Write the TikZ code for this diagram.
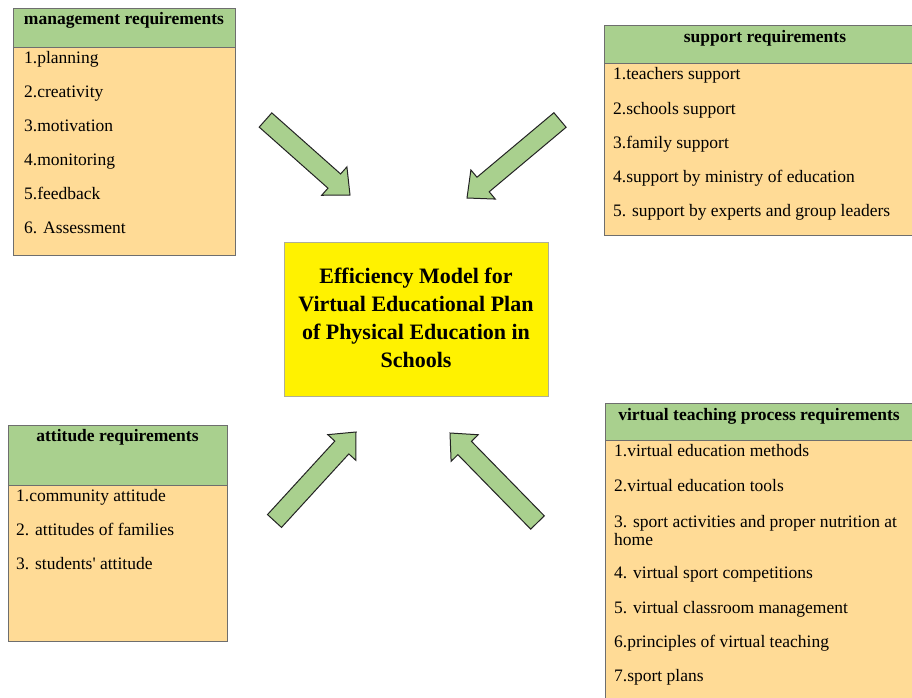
\documentclass[tikz,border=0pt]{standalone}
\usepackage{fontspec}
\setmainfont{Liberation Serif}
\usetikzlibrary{calc}
\definecolor{hdrgreen}{RGB}{169,208,142}
\definecolor{bodyorange}{RGB}{255,219,150}
\definecolor{boxline}{RGB}{110,110,110}
\definecolor{arrowline}{RGB}{35,35,35}
\definecolor{centerline}{RGB}{175,175,150}
\tikzset{
 bodybox/.style={draw=boxline, fill=bodyorange, line width=1pt, rectangle, inner sep=0pt, anchor=north west},
 hdrbox/.style={draw=boxline, fill=hdrgreen, line width=1pt, rectangle, inner sep=0pt, anchor=north west},
 hdrtext/.style={font=\fontsize{17.5}{19}\selectfont\bfseries, anchor=base, inner sep=0pt},
 item/.style={font=\fontsize{17.5}{18}\selectfont, anchor=base west, inner sep=0pt, align=left},
 centerbox/.style={draw=centerline, fill=yellow, line width=1pt, rectangle, inner sep=0pt, anchor=north west},
 centertext/.style={font=\fontsize{22}{28}\selectfont\bfseries, align=center, inner sep=0pt},
 blockarr/.style={draw=arrowline, fill=hdrgreen, line width=1pt, line join=miter},
}
\newcommand\blockarrow[2]{%
 \path ($(#2)!21pt!(#1)$) coordinate (bhead);
 \draw[blockarr] ($(#1)!9.5pt!90:(#2)$) -- ($(bhead)!9.5pt!90:(#2)$) -- ($(bhead)!19pt!90:(#2)$) -- (#2) -- ($(bhead)!19pt!-90:(#2)$) -- ($(bhead)!9.5pt!-90:(#2)$) -- ($(#1)!9.5pt!-90:(#2)$) -- cycle;}
\begin{document}
\begin{tikzpicture}[x=1pt,y=-1pt]
\clip (0,0) rectangle (912,698);
\fill[white] (0,0) rectangle (912,698);

% management
\node[bodybox, minimum width=222pt, minimum height=247pt] (mgmt) at (13,8) {};
\node[hdrbox, minimum width=222pt, minimum height=39pt] (mgmtH) at (13,8) {};
\node[hdrtext] (mgmtT) at (124,25) {management requirements};
\node[item] (m1) at (24,63.5) {1.planning};
\node[item] (m2) at (24,97.5) {2.creativity};
\node[item] (m3) at (24,131.5) {3.motivation};
\node[item] (m4) at (24,165.5) {4.monitoring};
\node[item] (m5) at (24,199.5) {5.feedback};
\node[item] (m6) at (24,233.5) {6. Assessment};

% support
\node[bodybox, minimum width=320pt, minimum height=210pt] (supp) at (604,25) {};
\node[hdrbox, minimum width=320pt, minimum height=38pt] (suppH) at (604,25) {};
\node[hdrtext] (suppT) at (765,42.5) {support requirements};
\node[item] (s1) at (613,80) {1.teachers support};
\node[item] (s2) at (613,114) {2.schools support};
\node[item] (s3) at (613,148) {3.family support};
\node[item] (s4) at (613,182) {4.support by ministry of education};
\node[item] (s5) at (613,216.5) {5. support by experts and group leaders};

% attitude
\node[bodybox, minimum width=219pt, minimum height=216pt] (att) at (8,425) {};
\node[hdrbox, minimum width=219pt, minimum height=60pt] (attH) at (8,425) {};
\node[hdrtext] (attT) at (117.5,441.5) {attitude requirements};
\node[item] (a1) at (16,501.5) {1.community attitude};
\node[item] (a2) at (16,535.5) {2. attitudes of families};
\node[item] (a3) at (16,569.5) {3. students\textquotesingle{} attitude};

% virtual teaching
\node[bodybox, minimum width=320pt, minimum height=310pt] (virt) at (605,403) {};
\node[hdrbox, minimum width=320pt, minimum height=37pt] (virtH) at (605,403) {};
\node[hdrtext] (virtT) at (759,420) {virtual teaching process requirements};
\node[item] (v1) at (614,456.5) {1.virtual education methods};
\node[item] (v2) at (614,491.5) {2.virtual education tools};
\node[item] (v3) at (614,545) {3. sport activities and proper nutrition at\\home};
\node[item] (v4) at (614,578.5) {4. virtual sport competitions};
\node[item] (v5) at (614,613) {5. virtual classroom management};
\node[item] (v6) at (614,647.5) {6.principles of virtual teaching};
\node[item] (v7) at (614,681.5) {7.sport plans};

% centre
\node[centerbox, minimum width=264pt, minimum height=154pt] (center) at (284,242) {};
\node[centertext] (centerT) at (416,318) {Efficiency Model for\\Virtual Educational Plan\\of Physical Education in\\Schools};

% arrows
\coordinate (tlT) at (265.5,120); \coordinate (tlP) at (350,195);
\coordinate (trT) at (560,120);   \coordinate (trP) at (467,198);
\coordinate (blT) at (274.5,521); \coordinate (blP) at (356,432);
\coordinate (brT) at (537.5,522.5); \coordinate (brP) at (450,433);
\blockarrow{tlT}{tlP}
\blockarrow{trT}{trP}
\blockarrow{blT}{blP}
\blockarrow{brT}{brP}
\end{tikzpicture}
\end{document}
